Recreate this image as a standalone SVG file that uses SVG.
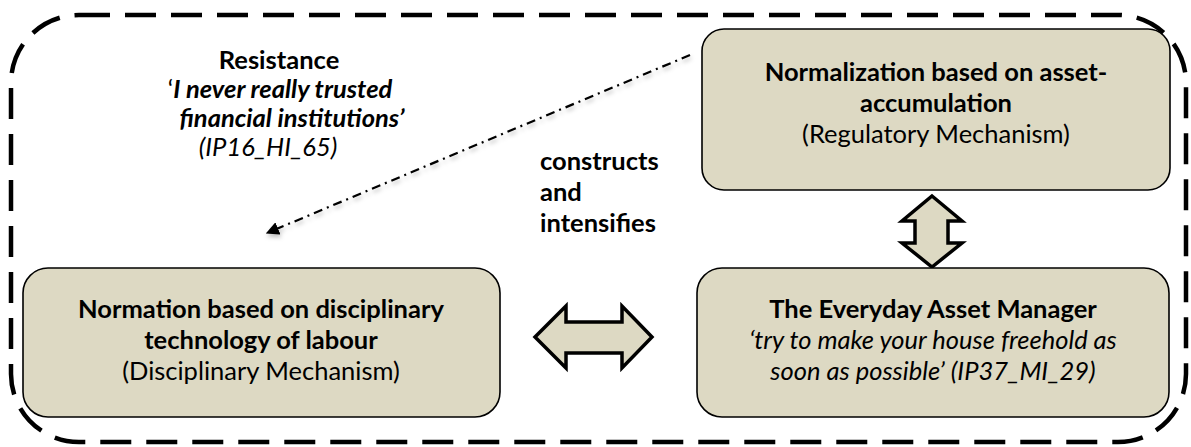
<svg xmlns="http://www.w3.org/2000/svg" width="1191" height="447" viewBox="0 0 1191 447">
<style>
text{font-family:Lato,"Open Sans","Liberation Sans",sans-serif;font-size:25.5px;fill:#000}
.b{font-weight:bold}
.i{font-style:italic}
.c{text-anchor:middle}
.box{fill:#ddd9c3;stroke:#000;stroke-width:1.6}
.dbl{fill:#ddd9c3;stroke:#000;stroke-width:3.5;stroke-linejoin:miter}
</style>
<defs>
<marker id="tri" viewBox="0 0 10 10" refX="9" refY="5" markerWidth="6" markerHeight="6" orient="auto" markerUnits="strokeWidth">
<path d="M0,0 L10,5 L0,10 Z" fill="#000"/>
</marker>
<filter id="sh" x="-10%" y="-10%" width="120%" height="130%">
<feDropShadow dx="1" dy="3" stdDeviation="2" flood-color="#000" flood-opacity="0.25"/>
</filter>
</defs>
<rect id="frame" x="11" y="15" width="1175" height="427" rx="68" ry="68" fill="none" stroke="#000" stroke-width="4.5" stroke-dasharray="31 15"/>
<g id="connectors">
<line x1="690" y1="55" x2="267" y2="233" stroke="#000" stroke-width="2.2" stroke-dasharray="9 5 2 5" marker-end="url(#tri)" filter="url(#sh)"/>
<polygon class="dbl" points="535,337 566,306 566,322 622,322 622,306 652,337 622,368 622,353 566,353 566,368"/>
<polygon class="dbl" points="932,196 962,221 948,221 948,243 962,243 932,267 902,243 915,243 915,221 902,221"/>
<text class="b" x="540" y="170">constructs</text>
<text class="b" x="540" y="201">and</text>
<text class="b" x="540" y="232">intensifies</text>
</g>
<g id="resistance">
<text class="c b" x="279" y="69">Resistance</text>
<text class="c" x="280" y="98">‘<tspan class="b i">I never really trusted</tspan></text>
<text class="c b i" x="292" y="127">financial institutions’</text>
<text class="c i" x="268" y="156">(IP16_HI_65)</text>
</g>
<g id="normalization">
<rect class="box" x="702" y="29" width="468" height="161" rx="22"/>
<text class="c b" x="936" y="81">Normalization based on asset-</text>
<text class="c b" x="936" y="112">accumulation</text>
<text class="c" x="936" y="143">(Regulatory Mechanism)</text>
</g>
<g id="normation">
<rect class="box" x="23" y="268" width="477" height="149" rx="25"/>
<text class="c b" x="261" y="318">Normation based on disciplinary</text>
<text class="c b" x="261" y="349">technology of labour</text>
<text class="c" x="261" y="380">(Disciplinary Mechanism)</text>
</g>
<g id="manager">
<rect class="box" x="697" y="268" width="472" height="149" rx="25"/>
<text class="c b" x="933" y="318">The Everyday Asset Manager</text>
<text class="c i" x="933" y="349">‘try to make your house freehold as</text>
<text class="c i" x="933" y="380">soon as possible’ (IP37_MI_29)</text>
</g>
</svg>
